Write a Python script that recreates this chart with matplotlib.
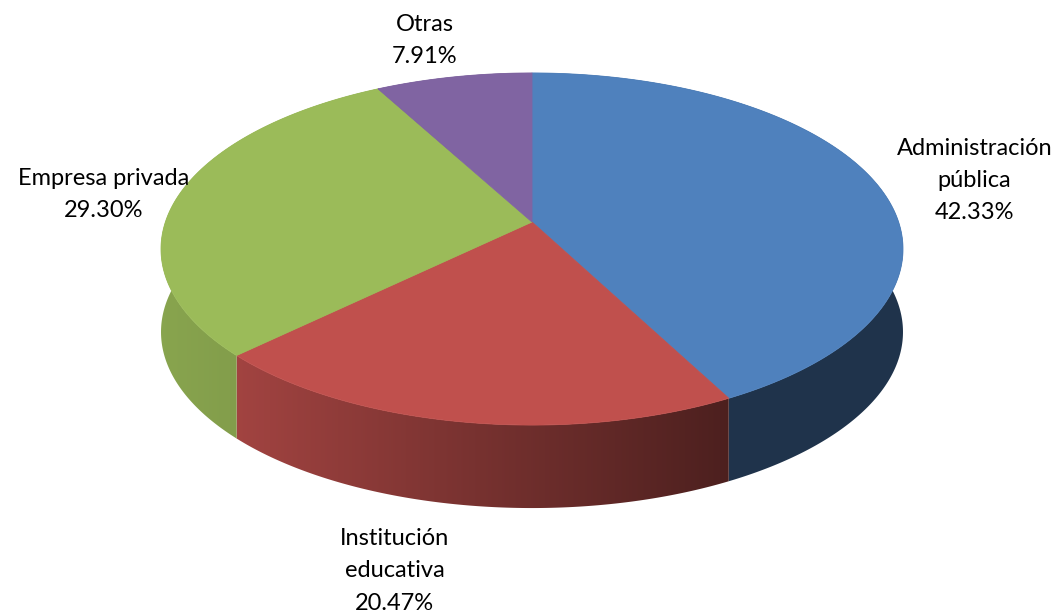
import numpy as np
import matplotlib.pyplot as plt
from matplotlib.patches import Polygon

categorias = ['Administración\npública', 'Institución\neducativa', 'Empresa privada', 'Otras']
porcentajes = [42.33, 20.47, 29.30, 7.91]
colores = ['#4f81bd', '#c0504d', '#9bbb59', '#8064a2']

# desplazamiento de cada etiqueta desde el borde (pixeles, y hacia abajo)
offsets = [(99, -2), (-68, 149), (-74, -2), (-29, -36)]

W, H = 1061, 613
cx, cy = 532, 222          # centro del pastel en pantalla
rx, ry = 366.6, 171.9      # semiejes
k = 0.1534                 # perspectiva
depth = 83                 # grosor


def proyectar(phi):
    u = np.sin(phi)
    v = -np.cos(phi)
    w = 1 - k * v
    return cx + rx * u / w, cy + ry * v / w


def sombra(x):
    # factor de brillo del lateral segun x
    return np.interp(x, [160, 240, 480, 727, 905], [0.88, 0.84, 0.62, 0.40, 0.40])


fig = plt.figure(figsize=(W / 100, H / 100), dpi=100)
ax = fig.add_axes([0, 0, 1, 1])
ax.axis('off')

fracs = np.array(porcentajes) / np.sum(porcentajes)
bordes = np.concatenate([[0], np.cumsum(fracs)]) * 2 * np.pi

xs = np.arange(W) + 0.5
for i, col in enumerate(colores):
    phis = np.linspace(bordes[i], bordes[i + 1], 300)
    x, y = proyectar(phis)
    # lateral
    pts = np.column_stack([np.concatenate([x, x[::-1]]),
                           np.concatenate([y, y[::-1] + depth])])
    patch = Polygon(pts, closed=True, facecolor='none', edgecolor='none')
    ax.add_patch(patch)
    base = np.array(plt.matplotlib.colors.to_rgb(col))
    grad = (sombra(xs)[:, None] * base[None, :])[None, :, :]
    im = ax.imshow(grad, extent=[0, W, H, 0], aspect='auto', zorder=1,
                   interpolation='bilinear')
    im.set_clip_path(patch)

for i, col in enumerate(colores):
    phis = np.linspace(bordes[i], bordes[i + 1], 300)
    x, y = proyectar(phis)
    pts = np.column_stack([np.concatenate([[cx], x]), np.concatenate([[cy], y])])
    ax.add_patch(Polygon(pts, closed=True, facecolor=col, edgecolor=col,
                         linewidth=0.6, zorder=2))

for i, (cat, p) in enumerate(zip(categorias, porcentajes)):
    mid = (bordes[i] + bordes[i + 1]) / 2
    x, y = proyectar(mid)
    dx, dy = offsets[i]
    ax.text(x + dx, y + dy, f'{cat}\n{p:.2f}%', ha='center', va='center',
            fontsize=17, family=['Lato', 'DejaVu Sans'], linespacing=1.65,
            color='black', zorder=3)

ax.set_xlim(0, W)
ax.set_ylim(H, 0)
fig.savefig('out.png', dpi=100, facecolor='white')
